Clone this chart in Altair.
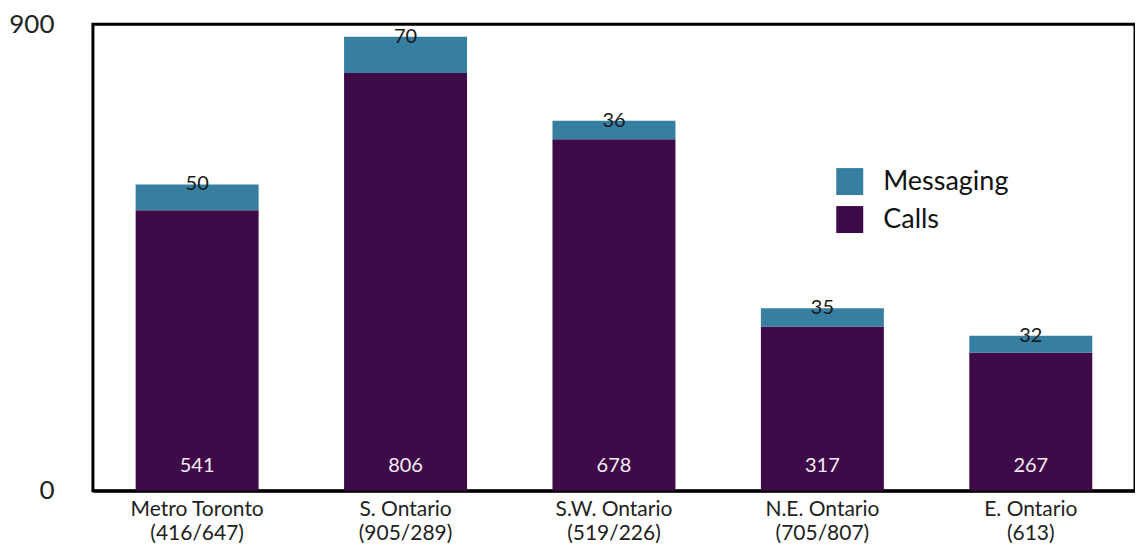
import altair as alt
import pandas as pd

regions = ["Metro Toronto", "S. Ontario", "S.W. Ontario", "N.E. Ontario", "E. Ontario"]
codes = ["(416/647)", "(905/289)", "(519/226)", "(705/807)", "(613)"]
calls = [541, 806, 678, 317, 267]
messaging = [50, 70, 36, 35, 32]
series = ["Messaging", "Calls"]
colors = ["#367FA1", "#3E0A47"]
y_ticks = [0, 900]

rows = []
for r, c, ca, m in zip(regions, codes, calls, messaging):
    lab = r + "|" + c
    rows.append({"label": lab, "series": "Calls", "value": ca, "ord": 0, "total": ca + m})
    rows.append({"label": lab, "series": "Messaging", "value": m, "ord": 1, "total": ca + m})
df = pd.DataFrame(rows)

FONT = "Lato"
xenc = alt.X("label:N", sort=None,
             scale=alt.Scale(paddingInner=0.41, paddingOuter=0.205),
             axis=alt.Axis(title=None, labelExpr="split(datum.label, '|')", labelAngle=0,
                           labelFontSize=21, labelColor="#222222", labelFont=FONT,
                           ticks=False, domainColor="black", domainWidth=3,
                           labelPadding=8, labelLineHeight=24))
yscale = alt.Scale(domain=[0, 900], nice=False)

bars = alt.Chart(df).mark_bar().encode(
    x=xenc,
    y=alt.Y("value:Q", stack="zero", scale=yscale,
            axis=alt.Axis(title=None, values=y_ticks, grid=False, ticks=False, domain=False,
                          labelFontSize=26, labelFont=FONT, labelColor="#222222",
                          labelPadding=39)),
    color=alt.Color("series:N", scale=alt.Scale(domain=series, range=colors),
                    legend=alt.Legend(title=None, orient="none", legendX=744, legendY=144,
                                      symbolType="square", symbolSize=729, symbolStrokeWidth=0,
                                      symbolOpacity=1, labelFontSize=27, labelFont=FONT,
                                      labelColor="#111111", labelOffset=20, rowPadding=10,
                                      padding=0)),
    order=alt.Order("ord:Q"),
)

msg = df[df.series == "Messaging"]
cal = df[df.series == "Calls"]

msg_text = alt.Chart(msg).mark_text(fontSize=20, font=FONT, baseline="middle", color="#1a1a1a").encode(
    x=alt.X("label:N", sort=None), y=alt.Y("total:Q", scale=yscale), text="value:Q")

cal_text = alt.Chart(cal).mark_text(fontSize=20, font=FONT, baseline="middle", color="#F2EEF4",
                                    dy=-25).encode(
    x=alt.X("label:N", sort=None), y=alt.datum(0, scale=yscale), text="value:Q")

chart = alt.layer(bars, msg_text, cal_text).properties(
    width=1043, height=467, padding={"top": 3, "left": 0, "right": 0, "bottom": 0}
).configure(background="white").configure_view(stroke="black", strokeWidth=3)

chart.save("out.html", embed_options={"renderer": "svg", "actions": False})
